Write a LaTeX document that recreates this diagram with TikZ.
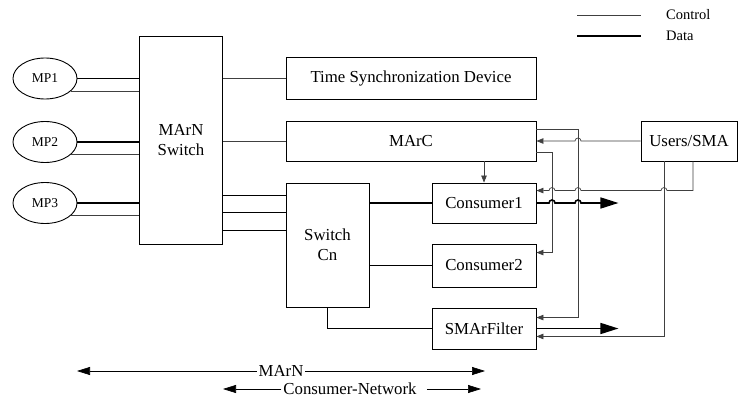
\documentclass[tikz,border=0pt]{standalone}
\usepackage{fontspec}
\setmainfont{Liberation Serif}
\usetikzlibrary{arrows.meta,shapes.geometric,calc}
\begin{document}
\begin{tikzpicture}[x=1pt,y=-1pt,
  font=\fontsize{16.8}{20.5}\selectfont,
  box/.style={draw,line width=0.9pt,inner sep=0pt,align=center},
  mp/.style={draw,ellipse,line width=0.9pt,minimum width=64pt,minimum height=41pt,inner sep=0pt,font=\fontsize{13.5}{16}\selectfont},
  ctl/.style={line width=0.7pt,draw=black!75},
  dat/.style={line width=1.6pt},
  sa/.style={-{Triangle[length=7pt,width=5.5pt]}},
  ba/.style={-{Triangle[length=18pt,width=11pt]}},
  dim/.style={line width=0.7pt,-{Triangle[length=13pt,width=8pt]}},
  lgd/.style={anchor=west,inner sep=0pt,font=\fontsize{14.5}{16}\selectfont},
]
\fill[white] (0,0) rectangle (738,401);
\useasboundingbox (0,0) rectangle (738,401);

% nodes
\node[mp] (mp1) at (45,78.5) {MP1};
\node[mp] (mp2) at (45,142) {MP2};
\node[mp] (mp3) at (45,203) {MP3};
\node[box,minimum width=83pt,minimum height=208pt] (marn) at (181,140) {MArN\\Switch};
\node[box,minimum width=250pt,minimum height=42pt] (tsd) at (411,78) {Time Synchronization Device};
\node[box,minimum width=250pt,minimum height=40pt] (marc) at (411,141) {MArC};
\node[box,minimum width=83pt,minimum height=124pt] (swcn) at (327.5,245) {Switch\\Cn};
\node[box,minimum width=104pt,minimum height=40pt] (c1) at (484,203) {Consumer1};
\node[box,minimum width=104pt,minimum height=43pt] (c2) at (484,265.5) {Consumer2};
\node[box,minimum width=104pt,minimum height=41pt] (smf) at (484,328.5) {SMArFilter};
\node[box,minimum width=96pt,minimum height=40pt] (users) at (689,141) {Users/SMA};

% legend
\coordinate (lca) at (577,15);
\coordinate (lcb) at (641,15);
\coordinate (lda) at (577,36);
\coordinate (ldb) at (641,36);
\draw[ctl] (lca) -- (lcb);
\draw[dat] (lda) -- (ldb);
\node[lgd] (lc) at (666,15) {Control};
\node[lgd] (ld) at (666,36) {Data};

% MP links
\foreach \m in {mp1,mp2,mp3}{
  \draw[dat] (\m.east) -- (\m.east -| marn.west);
  \draw[ctl] (\m.-26) -- (\m.-26 -| marn.west);
}

% switch links
\draw[ctl] (marn.east |- tsd.west) -- (tsd.west);
\draw[ctl] (marn.east |- marc.west) -- (marc.west);
\coordinate (s1) at ($(swcn.north west)+(0,13)$);
\coordinate (s2) at ($(swcn.north west)+(0,30)$);
\coordinate (s3) at ($(swcn.north west)+(0,48)$);
\draw[dat] (s1 -| marn.east) -- (s1);
\draw[dat] (s2 -| marn.east) -- (s2);
\draw[dat] (s3 -| marn.east) -- (s3);

\draw[dat] (swcn.east |- c1.west) -- (c1.west);
\draw[dat] (swcn.east |- c2.west) -- (c2.west);
\draw[dat] (swcn.south) |- (smf.west);

% MArC -> Consumer1
\draw[ctl,sa] (c1.north |- marc.south) -- (c1.north);

% vertical rails
\coordinate (vA) at (552,0);
\coordinate (vB) at (578,0);
\coordinate (u1) at ($(users.south)+(4,0)$);
\coordinate (u2) at ($(users.south)+(-25,0)$);

% Users -> MArC
\draw[ctl,sa] (users.west) -- ($(users.west -| vB)+(3,0)$)
  arc[start angle=0,end angle=-180,radius=3] -- (marc.east);

% MArC -> SMArFilter
\coordinate (m1) at ($(marc.north east)+(0,9)$);
\coordinate (f1) at ($(smf.north east)+(0,10)$);
\draw[ctl,sa] (m1) -- (m1 -| vB) -- (vB |- f1) -- (f1);

% MArC -> Consumer2
\coordinate (m2) at ($(marc.south east)+(0,-9)$);
\coordinate (f2) at ($(c2.north east)+(0,9)$);
\draw[ctl,sa] (m2) -- (m2 -| vA) -- (vA |- f2) -- (f2);

% Users -> Consumer1
\coordinate (g1) at ($(c1.north east)+(0,8)$);
\draw[ctl,sa] (u1) -- (u1 |- g1) -- ($(u2 |- g1)+(3,0)$)
  arc[start angle=0,end angle=-180,radius=3] -- ($(vB |- g1)+(3,0)$)
  arc[start angle=0,end angle=-180,radius=3] -- ($(vA |- g1)+(3,0)$)
  arc[start angle=0,end angle=-180,radius=3] -- (g1);

% Users -> SMArFilter
\coordinate (g2) at ($(smf.south east)+(0,-13)$);
\draw[ctl,sa] (u2) -- (u2 |- g2) -- (g2);

% data outputs
\coordinate (o1) at ($(c1.east)+(82,0)$);
\coordinate (o2) at ($(smf.east)+(82,0)$);
\draw[dat,ba] (c1.east) -- ($(vA |- c1.east)+(-3,0)$)
  arc[start angle=180,end angle=360,radius=3] -- ($(vB |- c1.east)+(-3,0)$)
  arc[start angle=180,end angle=360,radius=3] -- (o1);
\draw[dat,ba] (smf.east) -- (o2);

% extents
\node[inner sep=1.5pt] (marnl) at (281,371) {MArN};
\coordinate (ml) at (77,371);
\coordinate (mr) at (485,371);
\draw[dim] (marnl.west) -- (ml);
\draw[dim] (marnl.east) -- (mr);
\node[inner sep=2pt] (cnl) at (350,389) {Consumer-Network};
\coordinate (cl) at (223,389);
\coordinate (cr) at (481,389);
\coordinate (cra) at ($(cnl.east)+(8,0)$);
\draw[dim] (cnl.west) -- (cl);
\draw[dim] (cra) -- (cr);
\end{tikzpicture}
\end{document}
